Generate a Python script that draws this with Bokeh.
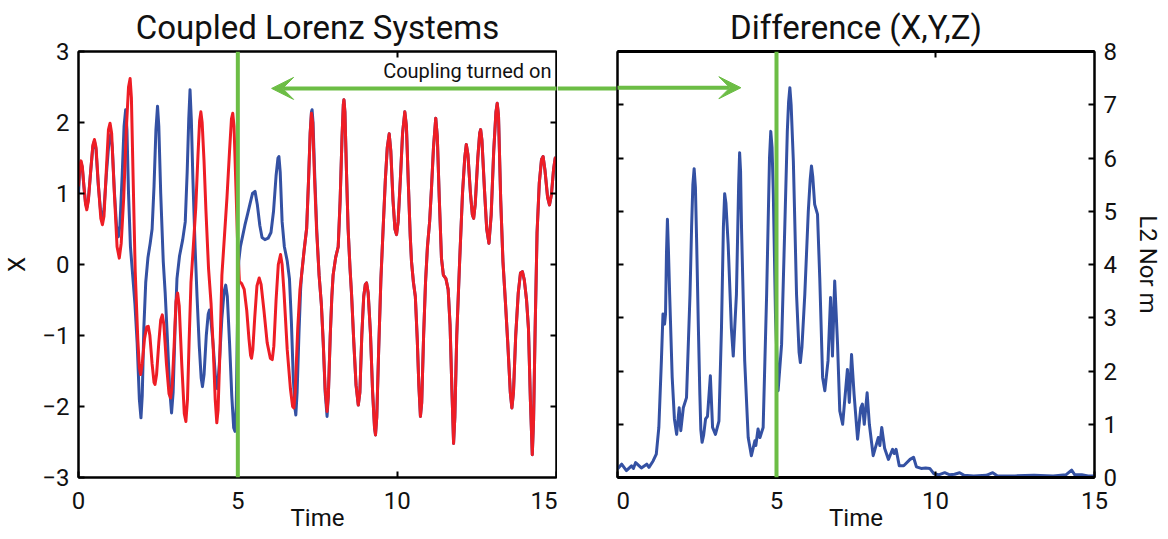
from bokeh.plotting import figure
from bokeh.models import LinearAxis, Range1d, Span, Arrow, VeeHead, Label, FixedTicker
from bokeh.layouts import row
from bokeh.embed import file_html
from bokeh.resources import INLINE

# ---------------- data ----------------
# Left panel, part before the two systems synchronise (blue = system 1)
t_blue_head = [0.00, 0.04, 0.08, 0.12, 0.17, 0.22, 0.26, 0.31, 0.38, 0.45, 0.50, 0.55, 0.62, 0.70,
               0.75, 0.80, 0.88, 0.96, 1.01, 1.06, 1.13, 1.20, 1.25, 1.30, 1.37, 1.43, 1.48, 1.52,
               1.57, 1.63, 1.70, 1.77, 1.84, 1.91, 1.96, 2.00, 2.05, 2.11, 2.18, 2.25, 2.31, 2.37,
               2.43, 2.48, 2.52, 2.58, 2.66, 2.72, 2.79, 2.86, 2.92, 2.97, 3.03, 3.09, 3.17, 3.27,
               3.35, 3.41, 3.46, 3.50, 3.54, 3.59, 3.66, 3.72, 3.79, 3.85, 3.89, 3.94, 4.01, 4.07,
               4.11, 4.15, 4.22, 4.30, 4.36, 4.42, 4.50, 4.57, 4.62, 4.67, 4.74, 4.81, 4.87, 4.91,
               4.95, 4.99, 5.03, 5.08, 5.15, 5.22, 5.30, 5.38, 5.46, 5.54, 5.61, 5.69, 5.76, 5.85,
               5.95, 6.04, 6.12, 6.20, 6.26, 6.29, 6.33, 6.39, 6.46, 6.55, 6.62, 6.68, 6.74, 6.80,
               6.82, 6.86, 6.92, 6.97, 7.00, 7.08, 7.16, 7.22, 7.27, 7.31, 7.33, 7.36, 7.41, 7.48,
               7.55, 7.62, 7.68, 7.74, 7.80]
x_blue_head = [1.00, 1.35, 1.44, 1.36, 1.10, 0.87, 0.80, 0.92, 1.30, 1.66, 1.74, 1.62, 1.12, 0.72,
               0.65, 0.78, 1.30, 1.75, 1.83, 1.65, 1.00, 0.50, 0.39, 0.55, 1.25, 1.95, 2.18, 1.90,
               1.00, 0.25, -0.15, -0.55, -1.10, -1.90, -2.16, -1.85, -0.90, -0.25, 0.10, 0.30, 0.50, 1.10,
               1.90, 2.23, 1.95, 1.00, 0.04, -0.40, -1.05, -1.75, -2.09, -1.80, -0.90, -0.20, 0.12, 0.35,
               0.60, 1.30, 2.05, 2.46, 2.05, 1.20, 0.23, -0.45, -1.15, -1.60, -1.72, -1.55, -1.00, -0.70,
               -0.64, -0.75, -1.10, -1.60, -1.75, -1.40, -0.75, -0.38, -0.29, -0.45, -1.10, -1.85, -2.30, -2.35,
               -2.00, -0.80, 0.05, 0.25, 0.40, 0.55, 0.70, 0.85, 1.00, 1.03, 0.85, 0.55, 0.38, 0.35,
               0.37, 0.45, 0.75, 1.25, 1.50, 1.52, 1.30, 0.60, 0.25, 0.05, -0.20, -0.80, -1.60, -2.05,
               -2.12, -1.80, -0.95, -0.35, -0.15, 0.20, 0.51, 1.20, 1.85, 2.15, 2.18, 2.00, 1.30, 0.45,
               -0.15, -0.55, -1.10, -1.80, -2.14]

# Left panel, part before synchronisation (red = system 2)
t_red_head = [0.00, 0.04, 0.08, 0.12, 0.17, 0.22, 0.26, 0.31, 0.38, 0.45, 0.50, 0.55, 0.62, 0.70,
              0.75, 0.80, 0.87, 0.94, 0.99, 1.04, 1.12, 1.21, 1.28, 1.34, 1.42, 1.50, 1.57, 1.62,
              1.66, 1.71, 1.78, 1.86, 1.91, 1.95, 2.00, 2.07, 2.14, 2.19, 2.24, 2.31, 2.37, 2.40,
              2.45, 2.52, 2.58, 2.63, 2.68, 2.76, 2.84, 2.89, 2.94, 3.00, 3.06, 3.11, 3.16, 3.24,
              3.32, 3.37, 3.42, 3.47, 3.53, 3.60, 3.68, 3.75, 3.80, 3.84, 3.88, 3.94, 4.00, 4.08,
              4.16, 4.23, 4.29, 4.34, 4.38, 4.44, 4.50, 4.58, 4.66, 4.74, 4.80, 4.84, 4.88, 4.94,
              5.00, 5.05, 5.12, 5.20, 5.28, 5.35, 5.40, 5.43, 5.47, 5.53, 5.60, 5.67, 5.73, 5.82,
              5.92, 6.02, 6.08, 6.13, 6.20, 6.27, 6.34, 6.39, 6.45, 6.55, 6.65, 6.72, 6.76, 6.80,
              6.88, 6.95, 7.00, 7.08, 7.16, 7.22, 7.27, 7.31, 7.35, 7.40, 7.47, 7.55, 7.62, 7.68,
              7.74, 7.80]
x_red_head = [1.10, 1.38, 1.46, 1.38, 1.10, 0.85, 0.77, 0.90, 1.30, 1.68, 1.76, 1.65, 1.15, 0.65,
              0.56, 0.68, 1.30, 1.90, 1.99, 1.85, 1.05, 0.25, 0.09, 0.30, 0.95, 1.90, 2.50, 2.62,
              2.35, 1.30, -0.10, -1.05, -1.45, -1.55, -1.40, -1.05, -0.88, -0.87, -1.00, -1.40, -1.66, -1.69,
              -1.55, -1.10, -0.78, -0.71, -0.85, -1.40, -1.82, -1.88, -1.70, -1.15, -0.52, -0.40, -0.58, -1.40,
              -2.10, -2.21, -1.90, -1.10, -0.25, 0.23, 0.80, 1.55, 2.02, 2.15, 2.00, 1.45, 0.75, -0.05,
              -0.55, -1.20, -1.90, -2.23, -2.05, -1.20, -0.15, 0.40, 0.95, 1.60, 2.05, 2.13, 1.95, 1.10,
              0.20, -0.24, -0.27, -0.35, -0.65, -1.05, -1.28, -1.32, -1.20, -0.75, -0.30, -0.19, -0.28, -0.65,
              -1.10, -1.32, -1.34, -1.15, -0.50, 0.00, 0.14, 0.00, -0.40, -1.20, -1.75, -2.00, -2.02, -1.80,
              -0.90, -0.35, -0.15, 0.20, 0.51, 1.20, 1.85, 2.13, 2.00, 1.30, 0.50, -0.15, -0.55, -1.10,
              -1.75, -2.07]

# Left panel, synchronised part (both systems follow this)
t_sync = [7.84, 7.90, 7.95, 7.99, 8.07, 8.15, 8.21, 8.27, 8.31, 8.33, 8.36, 8.41, 8.46, 8.52,
          8.57, 8.64, 8.71, 8.78, 8.83, 8.89, 8.95, 9.00, 9.04, 9.09, 9.16, 9.23, 9.29, 9.32,
          9.36, 9.42, 9.49, 9.56, 9.63, 9.69, 9.75, 9.80, 9.87, 9.93, 9.98, 10.03, 10.10, 10.17,
          10.24, 10.29, 10.35, 10.41, 10.45, 10.51, 10.57, 10.63, 10.68, 10.73, 10.77, 10.83, 10.89, 10.95,
          11.02, 11.08, 11.14, 11.21, 11.26, 11.32, 11.39, 11.45, 11.53, 11.60, 11.66, 11.72, 11.77, 11.81,
          11.87, 11.96, 12.05, 12.12, 12.17, 12.22, 12.30, 12.36, 12.40, 12.45, 12.53, 12.59, 12.62, 12.66,
          12.74, 12.81, 12.88, 12.95, 13.03, 13.10, 13.14, 13.18, 13.25, 13.32, 13.40, 13.47, 13.55, 13.60,
          13.65, 13.72, 13.80, 13.87, 13.93, 13.99, 14.06, 14.12, 14.18, 14.24, 14.28, 14.33, 14.39, 14.46,
          14.53, 14.58, 14.64, 14.72, 14.78, 14.84, 14.91, 14.96, 15.00]
x_sync = [-1.85, -1.00, -0.45, -0.15, 0.10, 0.25, 0.90, 1.80, 2.25, 2.32, 2.15, 1.30, 0.51, -0.05,
          -0.43, -1.10, -1.70, -1.98, -1.80, -1.00, -0.45, -0.28, -0.26, -0.40, -0.95, -1.80, -2.30, -2.40,
          -2.15, -1.20, -0.20, 0.51, 1.20, 1.65, 1.84, 1.60, 0.90, 0.50, 0.42, 0.60, 1.20, 1.85,
          2.15, 1.95, 1.15, 0.40, 0.04, -0.25, -0.45, -1.05, -1.70, -2.14, -1.95, -1.00, -0.25, 0.25,
          0.61, 1.10, 1.65, 2.06, 1.80, 0.95, 0.09, -0.15, -0.20, -0.35, -0.85, -1.80, -2.52, -2.15,
          -1.00, 0.04, 1.00, 1.50, 1.69, 1.55, 1.00, 0.70, 0.65, 0.85, 1.50, 1.85, 1.90, 1.75,
          1.05, 0.50, 0.30, 0.70, 1.60, 2.15, 2.27, 2.10, 0.90, 0.04, -0.55, -1.10, -1.80, -2.02,
          -1.80, -1.00, -0.40, -0.12, -0.10, -0.22, -0.50, -0.90, -1.90, -2.68, -2.20, -0.90, 0.45, 1.15,
          1.48, 1.52, 1.32, 0.95, 0.84, 0.98, 1.35, 1.50, 1.48]

t_blue = t_blue_head + t_sync
x_blue = x_blue_head + x_sync
t_red = t_red_head + t_sync
x_red = x_red_head + x_sync

# Right panel: L2 norm of the difference
t_diff = [0.00, 0.13, 0.28, 0.44, 0.50, 0.57, 0.75, 0.92, 0.99, 1.12, 1.22, 1.30, 1.38, 1.43,
          1.48, 1.51, 1.54, 1.57, 1.60, 1.64, 1.72, 1.79, 1.86, 1.94, 1.99, 2.07, 2.17, 2.28,
          2.33, 2.37, 2.41, 2.45, 2.49, 2.54, 2.59, 2.62, 2.66, 2.71, 2.77, 2.83, 2.92, 2.99,
          3.08, 3.19, 3.27, 3.33, 3.37, 3.41, 3.48, 3.58, 3.64, 3.74, 3.81, 3.84, 3.87, 3.90,
          4.00, 4.11, 4.21, 4.32, 4.35, 4.42, 4.48, 4.58, 4.69, 4.78, 4.82, 4.86, 4.90, 4.97,
          5.05, 5.16, 5.26, 5.34, 5.38, 5.42, 5.46, 5.53, 5.63, 5.71, 5.75, 5.80, 5.89, 6.00,
          6.06, 6.10, 6.14, 6.20, 6.29, 6.36, 6.45, 6.52, 6.62, 6.70, 6.76, 6.83, 6.92, 6.99,
          7.08, 7.18, 7.23, 7.29, 7.36, 7.44, 7.55, 7.65, 7.70, 7.76, 7.85, 7.92, 8.04, 8.20,
          8.25, 8.31, 8.40, 8.52, 8.65, 8.70, 8.76, 8.86, 9.00, 9.20, 9.31, 9.40, 9.55, 9.69,
          9.82, 9.95, 10.10, 10.29, 10.45, 10.60, 10.76, 10.90, 11.20, 11.60, 11.80, 11.95, 12.50, 13.10,
          13.70, 14.10, 14.28, 14.38, 14.60, 14.80, 15.00]
l2_diff = [0.16, 0.25, 0.13, 0.22, 0.17, 0.28, 0.18, 0.25, 0.19, 0.31, 0.44, 0.94, 2.19, 3.07,
           2.88, 3.07, 4.20, 4.85, 4.30, 3.44, 1.88, 1.10, 0.81, 1.31, 0.88, 1.31, 1.50, 3.44,
           4.70, 5.50, 5.80, 5.45, 4.40, 2.90, 1.56, 0.90, 0.66, 0.80, 1.10, 1.15, 1.91, 0.94,
           0.81, 1.06, 2.81, 4.70, 5.33, 5.15, 4.38, 2.81, 2.28, 3.44, 5.50, 6.10, 5.75, 4.69,
           2.19, 0.75, 0.41, 0.69, 0.60, 0.91, 0.75, 0.94, 3.44, 6.00, 6.50, 6.20, 5.32, 3.00,
           1.63, 2.50, 4.69, 6.50, 7.05, 7.32, 7.00, 5.94, 3.44, 2.35, 2.16, 2.45, 3.44, 5.00,
           5.60, 5.85, 5.65, 5.13, 4.94, 3.75, 1.88, 1.63, 2.19, 3.38, 2.28, 3.69, 2.50, 1.25,
           1.00, 1.69, 2.03, 1.41, 2.31, 1.56, 0.72, 1.31, 1.38, 1.00, 1.59, 1.00, 0.41, 0.75,
           0.60, 0.94, 0.55, 0.34, 0.53, 0.45, 0.53, 0.22, 0.22, 0.34, 0.38, 0.20, 0.17, 0.18,
           0.17, 0.07, 0.05, 0.09, 0.05, 0.06, 0.09, 0.04, 0.03, 0.04, 0.09, 0.03, 0.03, 0.04,
           0.03, 0.05, 0.14, 0.05, 0.05, 0.03, 0.03]

x_ticks = [0, 5, 10, 15]
left_y_ticks = [-3, -2, -1, 0, 1, 2, 3]
right_y_ticks = [0, 1, 2, 3, 4, 5, 6, 7, 8]

coupling_time = 5.0
arrow_left_tip = 6.06       # time the left arrow head points to (left panel)
arrow_left_y = 2.48         # X level of the arrow in the left panel
arrow_right_tip = 3.88      # time the right arrow head points to (right panel)
arrow_right_y = 7.32        # L2 level of the arrow in the right panel

# ---------------- style ----------------
FONT = "Roboto"
BLUE = "#3451a3"
RED = "#ee1d25"
GREEN = "#6cbd45"
TICK_FS = "24px"
LABEL_FS = "24px"
TITLE_FS = "33px"
FRAME_H = 426
TOP = 50
BOTTOM = 63


def style_axis(ax, labels=True, line_width=2):
    ax.major_tick_in = 6
    ax.major_tick_out = 0
    ax.minor_tick_line_color = None
    ax.axis_line_width = line_width
    ax.major_tick_line_width = 2
    ax.axis_line_color = "black"
    ax.major_tick_line_color = "black"
    ax.major_label_text_font = FONT
    ax.axis_label_text_font = FONT
    ax.axis_label_text_font_style = "normal"
    ax.axis_label_text_font_size = LABEL_FS
    ax.axis_label_text_color = "#111111"
    if labels:
        ax.major_label_text_font_size = TICK_FS
        ax.major_label_text_color = "#111111"
    else:
        ax.major_label_text_font_size = "1px"
        ax.major_label_text_color = None
        ax.major_label_standoff = 0


def style_title(p):
    p.title.align = "center"
    p.title.text_font = FONT
    p.title.text_font_size = TITLE_FS
    p.title.text_font_style = "normal"
    p.title.text_color = "#111111"


# ---------------- left panel ----------------
p1 = figure(frame_width=478, frame_height=FRAME_H,
            min_border_left=77, min_border_right=1, min_border_top=TOP, min_border_bottom=BOTTOM,
            x_range=Range1d(0, 15), y_range=Range1d(-3, 3),
            output_backend="svg", toolbar_location=None,
            title="Coupled Lorenz Systems")
p1.grid.visible = False
p1.outline_line_color = "black"
p1.outline_line_width = 2
style_title(p1)

p1.xaxis.ticker = FixedTicker(ticks=x_ticks)
p1.yaxis.ticker = FixedTicker(ticks=left_y_ticks)
p1.yaxis.major_label_overrides = {v: ("\u2212" + str(-v)) for v in left_y_ticks if v < 0}
p1.xaxis.axis_label = "Time"
p1.yaxis.axis_label = "X"
for ax in p1.xaxis + p1.yaxis:
    style_axis(ax)
p1.xaxis.major_label_standoff = 14
p1.xaxis.axis_label_standoff = -8
p1.yaxis.major_label_standoff = 9
p1.yaxis.axis_label_standoff = 8

top1 = LinearAxis(ticker=FixedTicker(ticks=[5, 10]))
style_axis(top1, labels=False)
p1.add_layout(top1, "above")
right1 = LinearAxis(ticker=FixedTicker(ticks=[-2, -1, 0, 1, 2]))
style_axis(right1, labels=False)
p1.add_layout(right1, "right")

p1.line(t_blue, x_blue, line_color=BLUE, line_width=3, line_join="round")
p1.line(t_red, x_red, line_color=RED, line_width=3, line_join="round")
p1.add_layout(Span(location=coupling_time, dimension="height", line_color=GREEN, line_width=4))

p1.add_layout(Arrow(start=VeeHead(size=22, fill_color=GREEN, line_color=GREEN, line_width=1),
                    end=None, x_start=arrow_left_tip, y_start=arrow_left_y,
                    x_end=16.0, y_end=arrow_left_y, line_color=GREEN, line_width=4))
p1.add_layout(Label(x=15, y=arrow_left_y, x_offset=-5, y_offset=5, text="Coupling turned on",
                    text_align="right", text_baseline="bottom", text_font=FONT,
                    text_font_size="20px", text_color="#111111"))

# ---------------- gap between the panels (carries the arrow shaft) ----------------
pg = figure(frame_width=59, frame_height=FRAME_H,
            min_border_left=0, min_border_right=0, min_border_top=TOP, min_border_bottom=BOTTOM,
            x_range=Range1d(0, 1), y_range=Range1d(-3, 3),
            x_axis_location=None, y_axis_location=None,
            output_backend="svg", toolbar_location=None)
pg.grid.visible = False
pg.outline_line_color = None
pg.add_layout(Span(location=arrow_left_y, dimension="width", line_color=GREEN, line_width=4))

# ---------------- right panel ----------------
p2 = figure(frame_width=477, frame_height=FRAME_H,
            min_border_left=1, min_border_right=75, min_border_top=TOP, min_border_bottom=BOTTOM,
            x_range=Range1d(0, 15), y_range=Range1d(0, 8), y_axis_location="right",
            output_backend="svg", toolbar_location=None,
            title="Difference (X,Y,Z)")
p2.grid.visible = False
p2.outline_line_color = "black"
p2.outline_line_width = 2
style_title(p2)

p2.xaxis.ticker = FixedTicker(ticks=x_ticks)
p2.yaxis.ticker = FixedTicker(ticks=right_y_ticks)
p2.xaxis.axis_label = "Time"
p2.yaxis.axis_label = "L2 Nor m"
for ax in p2.xaxis:
    style_axis(ax, line_width=3)
for ax in p2.yaxis:
    style_axis(ax)
p2.xaxis.major_label_standoff = 14
p2.xaxis.axis_label_standoff = -8
p2.yaxis.major_label_standoff = 9
p2.yaxis.axis_label_standoff = 14

top2 = LinearAxis(ticker=FixedTicker(ticks=[5, 10]))
style_axis(top2, labels=False, line_width=3)
p2.add_layout(top2, "above")
left2 = LinearAxis(ticker=FixedTicker(ticks=[1, 2, 3, 4, 5, 6, 7]))
style_axis(left2, labels=False)
p2.add_layout(left2, "left")

p2.line(t_diff, l2_diff, line_color=BLUE, line_width=3, line_join="round")
p2.add_layout(Span(location=coupling_time, dimension="height", line_color=GREEN, line_width=4))
p2.add_layout(Arrow(start=None,
                    end=VeeHead(size=22, fill_color=GREEN, line_color=GREEN, line_width=1),
                    x_start=-1.2, y_start=arrow_right_y, x_end=arrow_right_tip, y_end=arrow_right_y,
                    line_color=GREEN, line_width=4))

layout = row(p1, pg, p2)
open("out.html", "w").write(file_html(layout, INLINE))
